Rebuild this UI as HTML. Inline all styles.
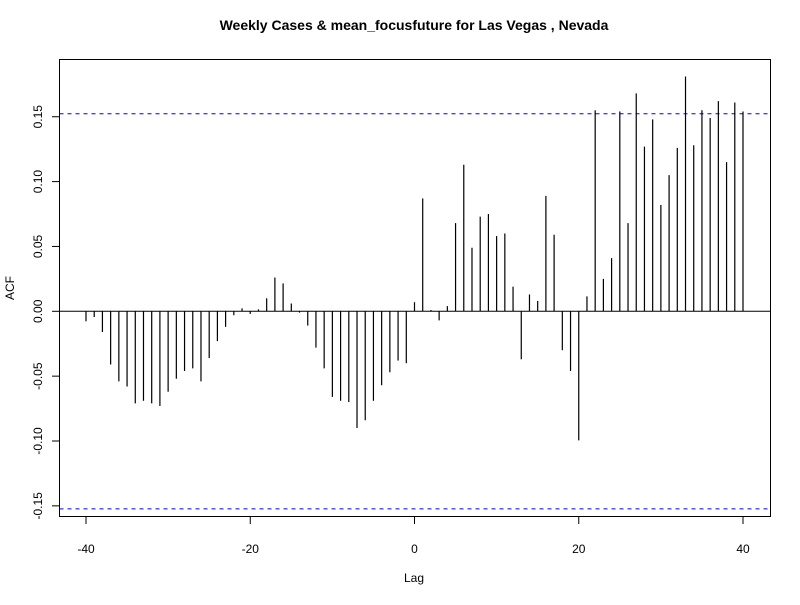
<!DOCTYPE html>
<html><head><meta charset="utf-8"><style>
body{margin:0;background:#fff}
svg text{font-family:"Liberation Sans",Arial,sans-serif;font-size:12px;fill:#000}
</style></head><body>
<svg id="chart" width="800" height="600" xmlns="http://www.w3.org/2000/svg">
<rect width="800" height="600" fill="#fff"/>
<text x="414" y="30" text-anchor="middle" style="font-weight:bold;font-size:14px">Weekly Cases &amp; mean_focusfuture for Las Vegas , Nevada</text>
<text x="414" y="582" text-anchor="middle">Lag</text>
<text transform="translate(14,288) rotate(-90)" text-anchor="middle">ACF</text>
<rect x="59.5" y="59.5" width="711" height="457" fill="none" stroke="#000" stroke-width="1"/>
<g id="g"></g>
</svg>
<script>
const lags = [];
for (let i = -40; i <= 40; i++) lags.push(i);
const acfValues = [
-0.0077,-0.0044,-0.016,-0.041,-0.054,-0.058,-0.071,-0.069,-0.071,-0.073,
-0.062,-0.052,-0.046,-0.044,-0.054,-0.036,-0.023,-0.012,-0.003,0.0023,
-0.002,0.0015,0.010,0.026,0.0215,0.006,-0.001,-0.011,-0.028,-0.044,
-0.066,-0.069,-0.070,-0.090,-0.084,-0.069,-0.057,-0.047,-0.038,-0.040,
0.0070,
0.087,0.001,-0.007,0.004,0.068,0.113,0.049,0.073,0.075,0.058,
0.060,0.019,-0.037,0.013,0.008,0.089,0.059,-0.030,-0.046,-0.0995,
0.0115,0.155,0.025,0.041,0.154,0.068,0.168,0.127,0.148,0.082,
0.105,0.126,0.181,0.128,0.155,0.149,0.162,0.115,0.161,0.154];
const ciLimit = 0.1523;
const xTicks = [-40,-20,0,20,40];
const yTicks = [-0.15,-0.10,-0.05,0.00,0.05,0.10,0.15];
const yTickLabels = ["-0.15","-0.10","-0.05","0.00","0.05","0.10","0.15"];

const NS = "http://www.w3.org/2000/svg";
const g = document.getElementById('g');
const xs = v => 86 + (v + 40) * (743 - 86) / 80;
const ys = v => 311.3 - v * 1297;
function mk(tag, attrs) {
  const e = document.createElementNS(NS, tag);
  for (const k in attrs) e.setAttribute(k, attrs[k]);
  g.appendChild(e);
  return e;
}
let e;
e = mk('line', {x1:59.5, x2:770.5, y1:ys(0), y2:ys(0), stroke:'#000'});


[ciLimit, -ciLimit].forEach((c, i) => {
  e = mk('line', {x1:59.5, x2:770.5, y1:ys(c), y2:ys(c), stroke:'#0000ee', 'stroke-dasharray':'4,4'});
  
  
});
lags.forEach((l, i) => {
  e = mk('line', {x1:xs(l), x2:xs(l), y1:ys(0), y2:ys(acfValues[i]), stroke:'#000', 'stroke-width':1.2});
  
  
});
xTicks.forEach(t => {
  e = mk('line', {x1:xs(t), x2:xs(t), y1:516.5, y2:524, stroke:'#000'});
  
  
  e = mk('text', {x:xs(t), y:553, 'text-anchor':'middle'});
  e.textContent = t;
  
  
});
yTicks.forEach((t, i) => {
  e = mk('line', {x1:52, x2:59.5, y1:ys(t), y2:ys(t), stroke:'#000'});
  
  
  e = mk('text', {transform:'translate(42,' + ys(t) + ') rotate(-90)', 'text-anchor':'middle'});
  e.textContent = yTickLabels[i];
  
  
});
</script>
</body></html>
